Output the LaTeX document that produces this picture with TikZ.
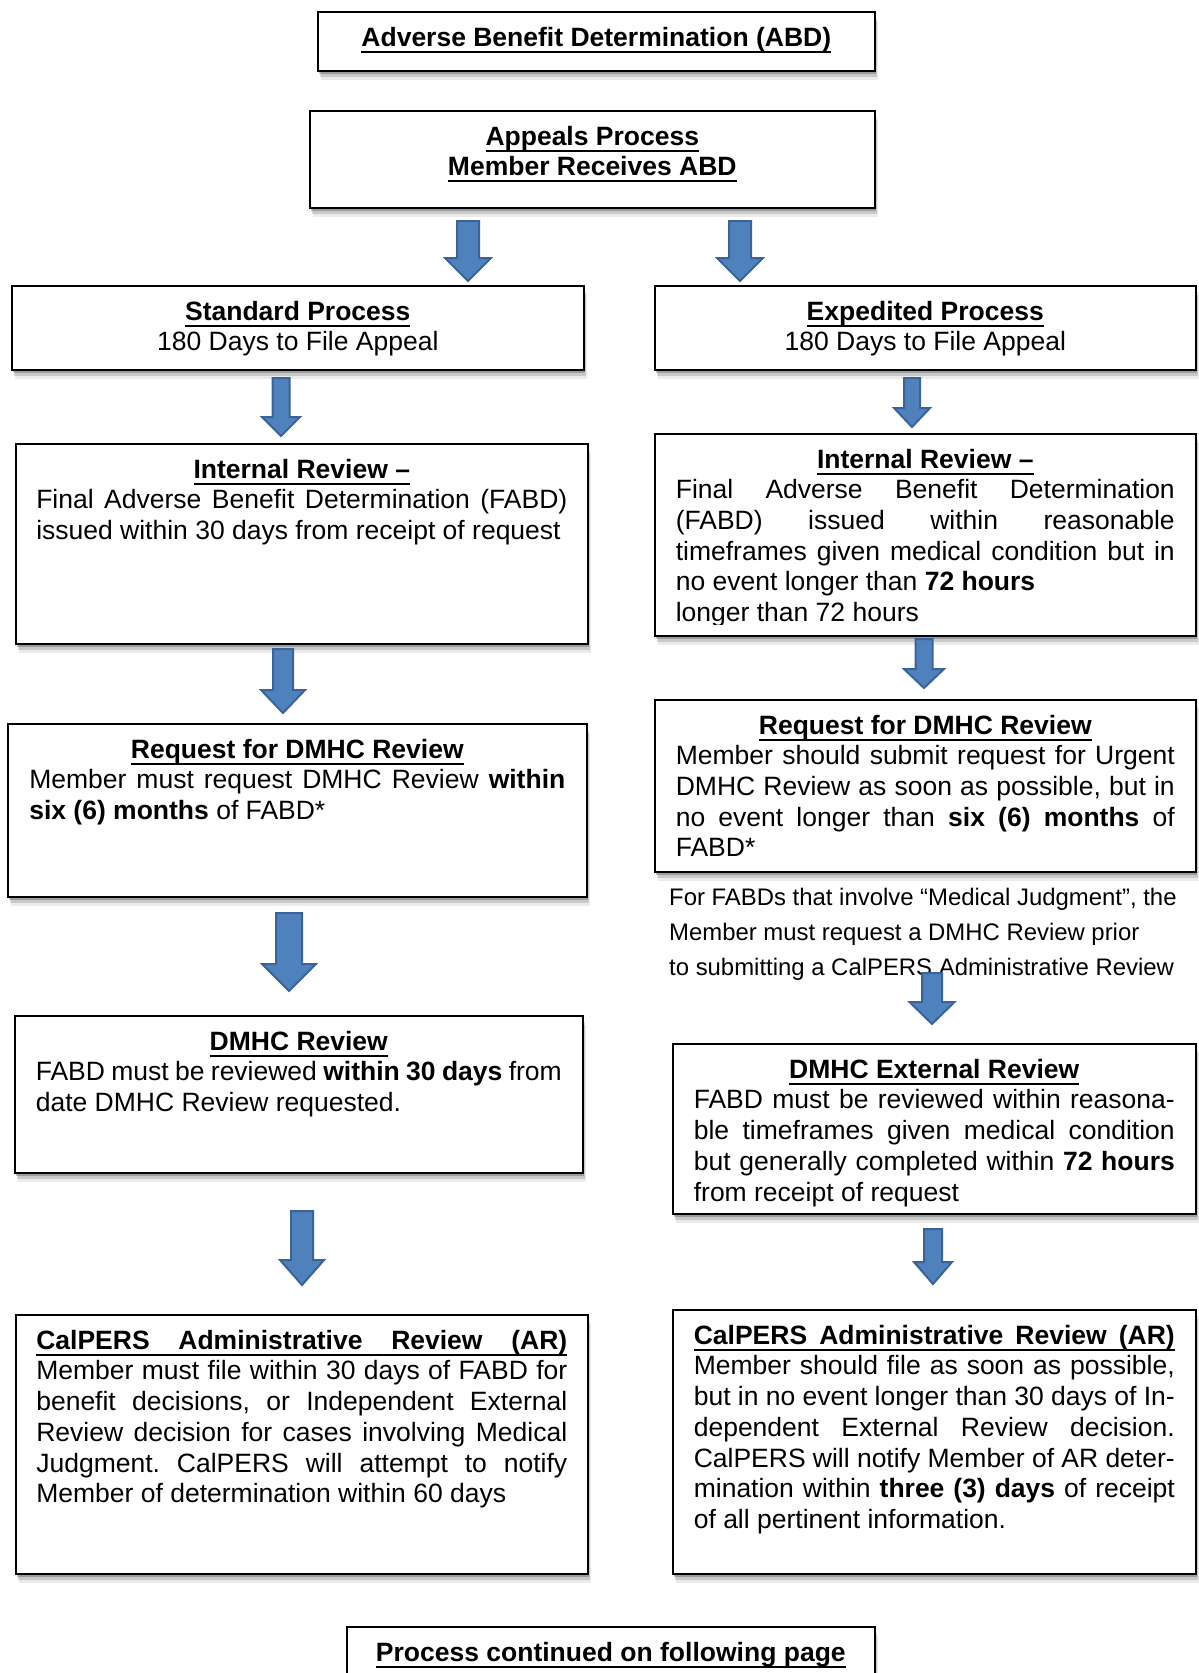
\documentclass[tikz,border=0pt]{standalone}
\usepackage{fontspec}
\setmainfont{Liberation Sans}
\usetikzlibrary{shadows,calc}
\definecolor{arrfill}{HTML}{4F81BD}
\definecolor{arrdraw}{HTML}{3A639A}
\newcommand\msz{\fontsize{26.5pt}{30.7pt}\selectfont}
\newcommand\nsz{\fontsize{23.9pt}{35pt}\selectfont}
\newcommand\rs{\frenchspacing\spaceskip=0pt\xspaceskip=0pt\relax}
\newcommand\myul[1]{\leavevmode{\setbox0\hbox{#1}\rlap{\rule[-6.6pt]{\wd0}{2.2pt}}\box0}}
\newcommand\fullul[1]{\leavevmode\rlap{\rule[-6.6pt]{\hsize}{2.2pt}}\makebox[\hsize][s]{#1}}
\newcommand\jl[1]{\makebox[\hsize][s]{#1}}
\newcommand\ct[1]{\makebox[\hsize][c]{#1}}
\newcommand\blk[7]{%
  \coordinate (#1) at (#2,#3);
  \filldraw[barrow] (#2-#5,#3) -- (#2+#5,#3) -- (#2+#5,#4-#7) -- (#2+#6,#4-#7) -- (#2,#4) -- (#2-#6,#4-#7) -- (#2-#5,#4-#7) -- cycle;}
\newcommand\bx[5]{\node[bx, minimum width=#4pt, minimum height=#5pt] (#1) at (#2,#3) {};}
\newcommand\tx[4]{\node[txt, text width=#3pt] (#1) at ($(#2.north)+(0,13.5)$) {\rs #4};}
\tikzset{
  bx/.style={draw=black, line width=1.6pt, fill=white, rectangle, inner sep=0pt, anchor=north west,
    drop shadow={shadow xshift=1.5pt, shadow yshift=-3pt, fill=black, opacity=0.22},
    drop shadow={shadow xshift=2.5pt, shadow yshift=-6pt, fill=black, opacity=0.14},
    drop shadow={shadow xshift=3.5pt, shadow yshift=-9pt, fill=black, opacity=0.08}},
  txt/.style={inner sep=0pt, font=\msz, anchor=north, align=left},
  ctxt/.style={txt, align=center},
  barrow/.style={fill=arrfill, draw=arrdraw, line width=2pt, line join=miter}
}
\begin{document}
\begin{tikzpicture}[x=1pt,y=-1pt]
\useasboundingbox (0,0) rectangle (1199,1673);
\fill[white] (0,0) rectangle (1199,1673);
% boxes
\bx{abd}{317}{11}{557}{59}
\bx{app}{309}{110}{565}{97}
\bx{std}{11}{285}{572}{84}
\bx{exp}{654}{285}{541}{84}
\bx{intl}{15}{443}{572}{200}
\bx{intr}{654}{433}{541}{202}
\bx{reql}{7}{723}{579}{173}
\bx{reqr}{654}{699}{541}{172}
\bx{dmhcl}{14}{1015}{568}{157}
\bx{dmhcr}{672}{1043}{523}{170}
\bx{call}{15}{1314}{572}{259}
\bx{calr}{672}{1309}{523}{264}
\bx{cont}{346}{1626}{528}{90}
% texts
\node[ctxt, text width=520pt] (tabd) at ($(abd.north)+(0,13.5)$) {\rs\ct{\strut\myul{\textbf{Adverse Benefit Determination (ABD)}}}};
\node[ctxt, text width=520pt] (tapp) at ($(app.north)+(0,13.5)$) {\rs\ct{\strut\myul{\textbf{Appeals Process}}}\\\ct{\myul{\textbf{Member Receives ABD}}}};
\node[ctxt, text width=530pt] (tstd) at ($(std.north)+(0,13.5)$) {\rs\ct{\strut\myul{\textbf{Standard Process}}}\\\ct{180 Days to File Appeal}};
\node[ctxt, text width=500pt] (texp) at ($(exp.north)+(0,13.5)$) {\rs\ct{\strut\myul{\textbf{Expedited Process}}}\\\ct{180 Days to File Appeal}};
\tx{tintl}{intl}{531}{\ct{\strut\myul{\textbf{Internal Review –}}}\\
\jl{Final Adverse Benefit Determination (FABD)}\\
issued within 30 days from receipt of request}
\begin{scope}
\clip (654,433) rectangle (1195,624);
\tx{tintr}{intr}{499}{\ct{\strut\myul{\textbf{Internal Review –}}}\\
\jl{Final Adverse Benefit Determination}\\
\jl{(FABD) issued within reasonable}\\
\jl{timeframes given medical condition but in}\\
no event longer than \textbf{72 hours}\\
longer than 72 hours}
\end{scope}
\tx{treql}{reql}{536}{\ct{\strut\myul{\textbf{Request for DMHC Review}}}\\
\jl{Member must request DMHC Review \textbf{within}}\\
\textbf{six (6) months} of FABD*}
\tx{treqr}{reqr}{499}{\ct{\strut\myul{\textbf{Request for DMHC Review}}}\\
\jl{Member should submit request for Urgent}\\
\jl{DMHC Review as soon as possible, but in}\\
\jl{no event longer than \textbf{six (6) months} of}\\
FABD*}
\node[inner sep=0pt, font=\nsz, anchor=north west, align=left, text width=525pt] (note) at (669,880.5) {\rs\strut For FABDs that involve “Medical Judgment”, the\\
Member must request a DMHC Review prior\\
to submitting a CalPERS Administrative Review};
\tx{tdmhcl}{dmhcl}{526}{\ct{\strut\myul{\textbf{DMHC Review}}}\\
\jl{FABD must be reviewed \textbf{within 30 days} from}\\
date DMHC Review requested.}
\tx{tdmhcr}{dmhcr}{481}{\ct{\strut\myul{\textbf{DMHC External Review}}}\\
\jl{FABD must be reviewed within reasona-}\\
\jl{ble timeframes given medical condition}\\
\jl{but generally completed within \textbf{72 hours}}\\
from receipt of request}
\tx{tcall}{call}{531}{\strut\fullul{\textbf{CalPERS Administrative Review (AR)}}\\
\jl{Member must file within 30 days of FABD for}\\
\jl{benefit decisions, or Independent External}\\
\jl{Review decision for cases involving Medical}\\
\jl{Judgment. CalPERS will attempt to notify}\\
Member of determination within 60 days}
\tx{tcalr}{calr}{481}{\strut\fullul{\textbf{CalPERS Administrative Review (AR)}}\\
\jl{Member should file as soon as possible,}\\
\jl{but in no event longer than 30 days of In-}\\
\jl{dependent External Review decision.}\\
\jl{CalPERS will notify Member of AR deter-}\\
\jl{mination within \textbf{three (3) days} of receipt}\\
of all pertinent information.}
\node[ctxt, text width=500pt] (tcont) at ($(cont.north)+(0,13.5)$) {\rs\ct{\strut\myul{\textbf{Process continued on following page}}}};
% arrows
\blk{a1}{468}{221}{281}{11}{23}{23}
\blk{a2}{740}{221}{281}{11}{23}{23}
\blk{a3}{281}{378}{436}{8.5}{19}{19}
\blk{a4}{912}{378}{427}{8}{18}{19}
\blk{a5}{283}{649}{713}{10}{22}{23}
\blk{a6}{924}{639}{688}{8.5}{20}{19}
\blk{a7}{289}{913}{991}{13}{27}{27}
\blk{a8}{932}{973}{1024}{10}{22.5}{22}
\blk{a9}{302}{1211}{1285}{11}{22}{25}
\blk{a10}{933}{1229}{1284}{9}{19}{22}
\end{tikzpicture}
\end{document}
